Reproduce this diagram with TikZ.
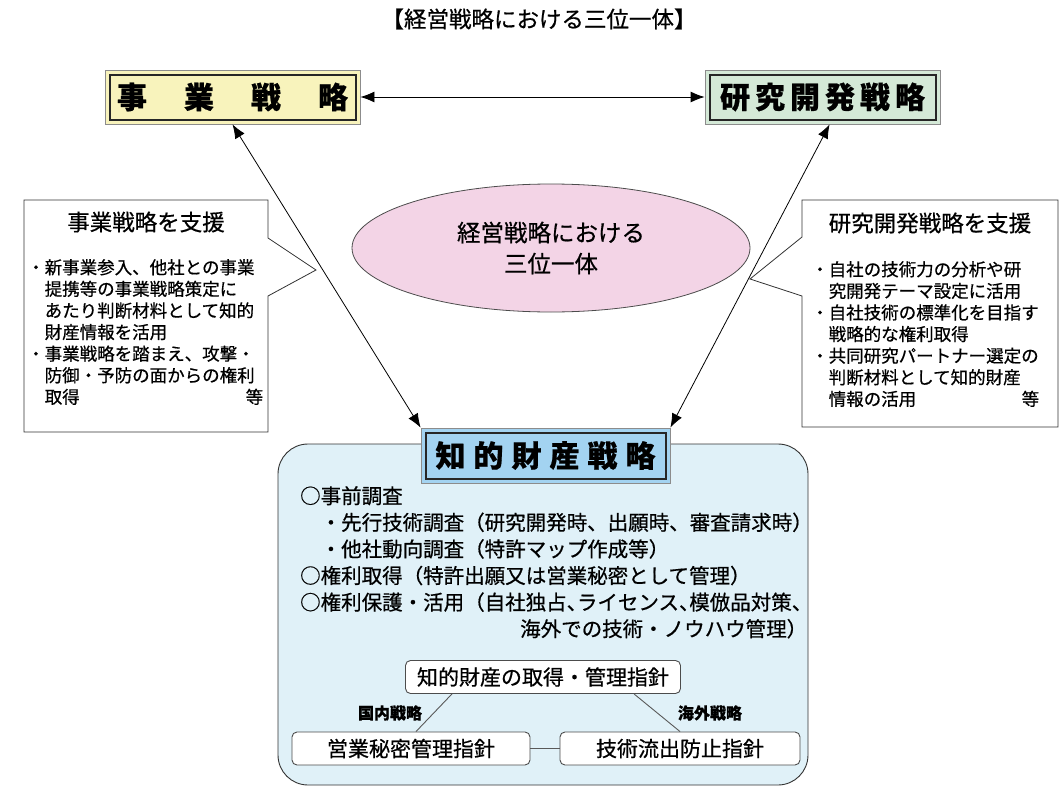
\documentclass[tikz,border=0pt]{standalone}
\usepackage{fontspec}
\setmainfont{Noto Sans CJK JP}[FakeBold=0.6]
\usepackage{tikz}
\usetikzlibrary{
  arrows.meta,
  positioning,
  calc,
  shapes.geometric
}

\definecolor{amarelo}{HTML}{F8F3BC}
\definecolor{verde}{HTML}{D4E9D7}
\definecolor{azulforte}{HTML}{A3D3F1}
\definecolor{azulclaro}{HTML}{E0F1F8}
\definecolor{rosa}{HTML}{F3D4E6}
\newcommand{\meiavirgula}{\makebox[0.5em][l]{、}}

\begin{document}
\begin{tikzpicture}[
        x=1pt, y=-1pt,
        >={Latex[length=14pt,width=11pt]},
        seta/.style={<->, line width=0.8pt},
        moldura/.style={draw=black!45, line width=0.8pt, inner sep=0pt},
        titulo/.style={draw=black!85, line width=2pt, inner sep=0pt, font=\fontsize{30}{36}\selectfont\bfseries},
        balao/.style={draw=black!80, line width=0.8pt, fill=white},
        lista/.style={anchor=north west, inner sep=0pt, align=left, font=\fontsize{17.5}{21.6}\selectfont},
        caixinha/.style={draw=black!70, line width=0.9pt, fill=white, rounded corners=5pt, inner sep=0pt, minimum height=33pt, font=\fontsize{21}{25}\selectfont},
        linha/.style={draw=black!65, line width=0.9pt},
        rotulo/.style={inner sep=0pt, font=\fontsize{16}{19}\selectfont\bfseries}
    ]
        \useasboundingbox (0,0) rectangle (1063,795);
        % Titulo
        \node[font=\fontsize{22.5}{26}\selectfont] (topo) at (539,19) {【経営戦略における三位一体】};
        % Estrategias do topo
        \node[moldura, fill=amarelo, minimum width=255pt, minimum height=54pt] (negocioext) at (232.5,97) {};
        \node[titulo, minimum width=246pt, minimum height=45pt] (negocio) at (negocioext) {事\hspace{37pt}業\hspace{37pt}戦\hspace{37pt}略};
        \node[moldura, fill=verde, minimum width=235pt, minimum height=54pt] (pdext) at (822.5,97) {};
        \node[titulo, minimum width=226pt, minimum height=45pt] (pd) at (pdext) {研\hspace{5pt}究\hspace{5pt}開\hspace{5pt}発\hspace{5pt}戦\hspace{5pt}略};
        \draw[seta] (negocioext) -- (pdext);
        % Elipse central
        \node[ellipse, draw=black!70, line width=0.8pt, fill=rosa, minimum width=398pt, minimum height=128pt, align=center, font=\fontsize{23.5}{31}\selectfont] (trindade) at (551,248) {経営戦略における\\三位一体};
        % Baloes laterais
        \draw[balao] (24,200) -- (268,200) -- (268,238) -- (316,270) -- (268,296) -- (268,432) -- (24,432) -- cycle;
        \node[font=\fontsize{22.5}{26}\selectfont] (apoio1) at (146,222) {事業戦略を支援};
        \node[lista, text width=236pt] (itens1) at (27,259) {・新事業参入、他社との事業\\\hspace*{1em}提携等の事業戦略策定に\\\hspace*{1em}あたり判断材料として知的\\\hspace*{1em}財産情報を活用\\・事業戦略を踏まえ、攻撃・\\\hspace*{1em}防御・予防の面からの権利\\\hspace*{1em}取得\hspace*{\fill}等};
        \draw[balao] (802,200) -- (1058,200) -- (1058,427) -- (802,427) -- (802,296) -- (750,279) -- (802,237) -- cycle;
        \node[font=\fontsize{22.5}{26}\selectfont] (apoio2) at (930,223) {研究開発戦略を支援};
        \node[lista, text width=228pt] (itens2) at (811,261) {・自社の技術力の分析や研\\\hspace*{1em}究開発テーマ設定に活用\\・自社技術の標準化を目指す\\\hspace*{1em}戦略的な権利取得\\・共同研究パートナー選定の\\\hspace*{1em}判断材料として知的財産\\\hspace*{1em}情報の活用\hspace*{\fill}等};
        % Painel do conhecimento
        \node[draw=black!80, line width=0.9pt, fill=azulclaro, rounded corners=30pt, minimum width=530pt, minimum height=341pt] (painel) at (543,614.5) {};
        \node[moldura, fill=azulforte, minimum width=249pt, minimum height=55pt] (ipext) at (545.5,455.5) {};
        \node[titulo, minimum width=240pt, minimum height=46pt] (ip) at (ipext) {知\hspace{8pt}的\hspace{8pt}財\hspace{8pt}産\hspace{8pt}戦\hspace{8pt}略};
        \draw[seta] (negocioext.south) -- (ipext.north west);
        \draw[seta] ($(pdext.south west)!0.53!(pdext.south east)$) -- (ipext.north east);
        \node[anchor=north west, inner sep=0pt, align=left, text width=507pt, font=\fontsize{20.5}{26.6}\selectfont] (conteudo) at (300,486) {○事前調査\\\hspace*{1em}・先行技術調査（研究開発時、出願時、審査請求時）\\\hspace*{1em}・他社動向調査（特許マップ作成等）\\○権利取得（特許出願又は営業秘密として管理）\\○権利保護・活用（自社独占\meiavirgula ライセンス\meiavirgula 模倣品対策、\\\hspace*{\fill}海外での技術・ノウハウ管理）};
        % Diretrizes
        \node[caixinha, minimum width=275pt] (diretriz) at (543,677) {知的財産の取得・管理指針};
        \node[caixinha, minimum width=238pt] (segredo) at (411,748.5) {営業秘密管理指針};
        \node[caixinha, minimum width=240pt] (vazamento) at (680,748.5) {技術流出防止指針};
        \draw[linha] ($(diretriz.south west)!0.17!(diretriz.south east)$) -- ($(segredo.north)+(5,0)$);
        \draw[linha] ($(diretriz.south west)!0.83!(diretriz.south east)$) -- (vazamento.north);
        \draw[linha] (segredo) -- (vazamento);
        \node[rotulo] (interno) at (390,713) {国内戦略};
        \node[rotulo] (externo) at (710,713) {海外戦略};
    \end{tikzpicture}
\end{document}
